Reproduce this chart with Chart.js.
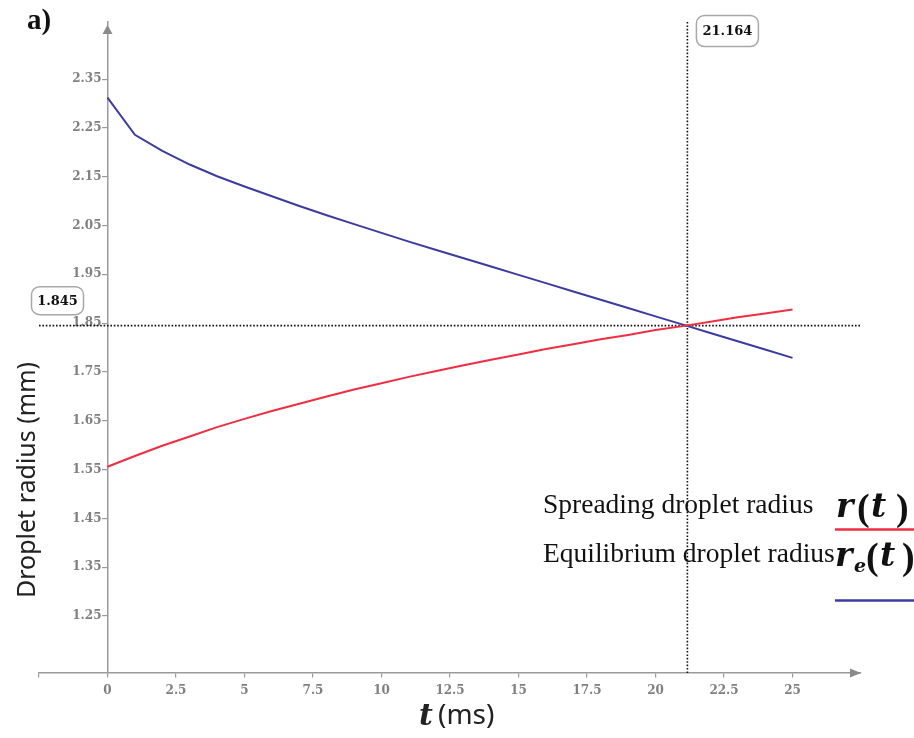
<!DOCTYPE html>
<html><head><meta charset="utf-8">
<script src="https://cdn.jsdelivr.net/npm/chart.js@4"></script>
<style>html,body{margin:0;padding:0;background:#fff}#wrap{width:914px;height:738px;position:relative}</style>
</head><body><div id="wrap"><canvas id="c"></canvas></div>
<script>
// ---- data ----
const timeMs = [0,1,2,3,4,5,6,7,8,9,10,11,12,13,14,15,16,17,18,19,20,21,22,23,24,25];
const spreadingRadius = [1.556,1.578,1.599,1.618,1.637,1.654,1.670,1.685,1.700,1.714,1.727,1.740,1.752,1.764,1.775,1.786,1.797,1.807,1.817,1.826,1.836,1.844,1.853,1.862,1.870,1.878];
const equilibriumRadius = [2.312,2.236,2.203,2.175,2.151,2.130,2.110,2.090,2.071,2.053,2.035,2.017,2.000,1.983,1.966,1.949,1.932,1.915,1.898,1.881,1.864,1.847,1.830,1.813,1.796,1.779];
const xTickValues = [-2.5,0,2.5,5,7.5,10,12.5,15,17.5,20,22.5,25];
const yTickValues = [1.25,1.35,1.45,1.55,1.65,1.75,1.85,1.95,2.05,2.15,2.25,2.35];
const xRange = [-2.5, 27.5];
const yRange = [1.1334, 2.467];
const crossTime = 21.164;
const crossRadius = 1.845;
const seriesLabels = ['Spreading droplet radius', 'Equilibrium droplet radius'];
const panelLabel = 'a)';
const yTitle = 'Droplet radius (mm)';

const RED = 'rgb(240,45,65)';
const BLUE = 'rgb(60,60,160)';
const AXIS = '#9a9a9a';
const TICKFONT = {family: '"DejaVu Serif"', size: 12, weight: 'bold'};

// linear scale whose labels sit a few pixels off a centred axis line
class OffsetLinear extends Chart.LinearScale {
  _computeLabelItems(ca) {
    const items = super._computeLabelItems(ca);
    const off = (this.options.labelShift || 0);
    if (off) items.forEach(it => { it.options.translation = [it.options.translation[0] - off, it.options.translation[1]]; });
    return items;
  }
}
OffsetLinear.id = 'offsetLinear';
OffsetLinear.defaults = Chart.LinearScale.defaults;
Chart.register(OffsetLinear);

const deco = {
  id: 'deco',
  afterDraw(chart) {
    const {ctx, chartArea: a, scales: {x, y}} = chart;
    ctx.save();
    // axis arrows
    ctx.fillStyle = '#8a8a8a';
    const x0 = x.getPixelForValue(0);
    const yb = y.getPixelForValue(yRange[0]);
    ctx.beginPath(); ctx.moveTo(x0, a.top + 3); ctx.lineTo(x0 - 5, a.top + 12); ctx.lineTo(x0 + 5, a.top + 12); ctx.closePath(); ctx.fill();
    ctx.beginPath(); ctx.moveTo(a.right, yb); ctx.lineTo(a.right - 11, yb - 4.5); ctx.lineTo(a.right - 11, yb + 4.5); ctx.closePath(); ctx.fill();

    // panel label
    ctx.fillStyle = '#111';
    ctx.font = 'bold 29px "Liberation Serif"';
    ctx.textAlign = 'left'; ctx.textBaseline = 'alphabetic';
    ctx.fillText(panelLabel, 27, 29);

    // value boxes
    function box(text, cx, cy, w, h) {
      ctx.beginPath();
      ctx.roundRect(cx - w / 2, cy - h / 2, w, h, 8);
      ctx.fillStyle = '#fff'; ctx.fill();
      ctx.lineWidth = 1.5; ctx.strokeStyle = '#a8a8a8'; ctx.stroke();
      ctx.fillStyle = '#111';
      ctx.font = 'bold 13px "DejaVu Serif"';
      ctx.textAlign = 'center'; ctx.textBaseline = 'middle';
      ctx.fillText(text, cx, cy + 1);
    }
    box(crossRadius.toFixed(3), 57.5, y.getPixelForValue(crossRadius) - 25, 52, 28);
    box(crossTime.toFixed(3), x.getPixelForValue(crossTime) + 40, 31, 62, 31);

    // axis titles
    ctx.fillStyle = '#222';
    ctx.save();
    ctx.translate(28, 480); ctx.rotate(-Math.PI / 2);
    ctx.font = '25px "Noto Sans"'; ctx.textAlign = 'center'; ctx.textBaseline = 'middle';
    ctx.fillText(yTitle, 0, 0);
    ctx.restore();
    ctx.textAlign = 'left'; ctx.textBaseline = 'alphabetic';
    ctx.font = 'bold italic 30px "DejaVu Serif"';
    ctx.fillText('t', 419, 725);
    ctx.font = '28px "Noto Sans"';
    ctx.fillText('(ms)', 438, 724);

    // legend
    ctx.fillStyle = '#111';
    ctx.font = '27.5px "Liberation Serif"';
    ctx.fillText(seriesLabels[0], 543, 513);
    ctx.fillText(seriesLabels[1], 543, 562);
    function glyph(txt, font, gx, gy) { ctx.font = font; ctx.fillText(txt, gx, gy); }
    const MI = 'bold italic 33px "DejaVu Serif"';
    const PAR = 'bold 38px "Liberation Serif"';
    glyph('r', MI, 836, 517);
    glyph('(', PAR, 857, 520);
    glyph('t', MI, 871, 517);
    glyph(')', PAR, 896, 520);
    glyph('r', MI, 835, 566);
    glyph('e', 'bold italic 19px "DejaVu Serif"', 854, 572);
    glyph('(', PAR, 866, 569);
    glyph('t', MI, 880, 566);
    glyph(')', PAR, 902, 569);
    ctx.lineWidth = 2.5;
    ctx.strokeStyle = RED;
    ctx.beginPath(); ctx.moveTo(835, 529.5); ctx.lineTo(914, 529.5); ctx.stroke();
    ctx.strokeStyle = BLUE;
    ctx.beginPath(); ctx.moveTo(835, 600.5); ctx.lineTo(914, 600.5); ctx.stroke();
    ctx.restore();
  }
};

const pts = (xs, ys) => xs.map((t, i) => ({x: t, y: ys[i]}));

new Chart(document.getElementById('c'), {
  type: 'line',
  data: {
    datasets: [
      {label: seriesLabels[0], data: pts(timeMs, spreadingRadius), borderColor: RED, borderWidth: 2, pointRadius: 0, tension: 0, fill: false},
      {label: seriesLabels[1], data: pts(timeMs, equilibriumRadius), borderColor: BLUE, borderWidth: 2, pointRadius: 0, tension: 0, fill: false},
      {label: 'h', data: [{x: xRange[0], y: crossRadius}, {x: xRange[1], y: crossRadius}], borderColor: '#111', borderWidth: 1.6, borderDash: [1.6, 1.8], pointRadius: 0},
      {label: 'v', data: [{x: crossTime, y: yRange[0]}, {x: crossTime, y: yRange[1]}], borderColor: '#111', borderWidth: 1.6, borderDash: [1.6, 1.8], pointRadius: 0}
    ]
  },
  options: {
    responsive: true, maintainAspectRatio: false, animation: false,
    layout: {padding: {left: 39, right: 53, top: 22, bottom: 65}},
    plugins: {legend: {display: false}, tooltip: {enabled: false}},
    scales: {
      x: {
        type: 'linear', position: {y: yRange[0]}, min: xRange[0], max: xRange[1],
        afterBuildTicks: s => { s.ticks = xTickValues.map(v => ({value: v})); },
        ticks: {font: TICKFONT, color: '#808080', padding: 7, maxRotation: 0, autoSkip: false,
          callback: v => (v < 0 ? '' : String(v))},
        grid: {drawOnChartArea: false, drawTicks: true, tickLength: 4, color: AXIS, lineWidth: 1.2},
        border: {display: true, color: AXIS, width: 1.5}
      },
      y: {
        type: 'offsetLinear', labelShift: 6, position: {x: 0}, min: yRange[0], max: yRange[1],
        afterBuildTicks: s => { s.ticks = yTickValues.map(v => ({value: v})); },
        ticks: {font: TICKFONT, color: '#808080', padding: 2, autoSkip: false,
          callback: v => v.toFixed(2)},
        grid: {drawOnChartArea: false, drawTicks: true, tickLength: 5, color: AXIS, lineWidth: 1.2},
        border: {display: true, color: AXIS, width: 1.5}
      }
    }
  },
  plugins: [deco]
});
</script>
</body></html>
